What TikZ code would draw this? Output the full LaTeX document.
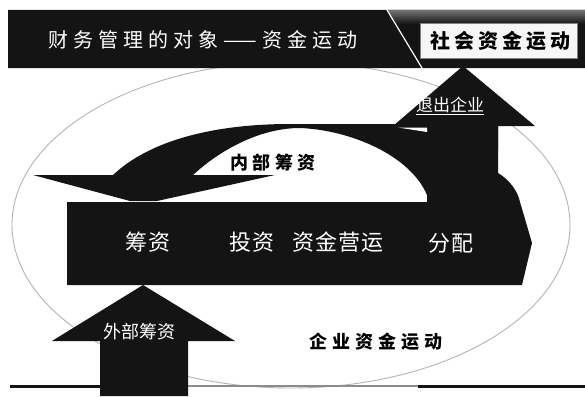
\documentclass[tikz,border=0pt]{standalone}
\usepackage{fontspec}
\newfontfamily\cjk{Noto Sans CJK SC}
\definecolor{ink}{HTML}{141414}
\definecolor{ringgray}{HTML}{B4B4B4}
\definecolor{boxfill}{HTML}{F6F6F6}
\tikzset{
  inkfill/.style={fill=ink, draw=none},
  wtext/.style={text=white, inner sep=0pt},
  btext/.style={text=black, inner sep=0pt},
}
\newcommand{\fs}[2]{\fontsize{#1}{#1}\selectfont\addfontfeature{LetterSpace=#2}}
\begin{document}
\begin{tikzpicture}[x=1pt,y=-1pt]
\fill[white] (0,0) rectangle (585,396);
\useasboundingbox (0,0) rectangle (585,396);
% ellipse
\draw[ringgray, line width=0.9pt] (291,225) ellipse [x radius=279pt, y radius=163pt];
% bottom line
\draw[ink, line width=3pt] (10,386) -- (100,386);
\draw[ink, line width=3pt] (418,386) -- (585,386);
\draw[black!45, line width=2.5pt] (188,386) -- (418,386);
% top bar
\fill[ink] (8,10) -- (387,10) -- (422,68) -- (8,68) -- cycle;
\fill[ink] (387,10) -- (585,10) -- (585,68) -- (422,68) -- cycle;
\shade[top color=black!55, bottom color=ink] (387,10) -- (585,10) -- (585,24) -- (395.4,24) -- cycle;
\draw[white, line width=1.2pt] (387,10) -- (422,68);
\node[draw=black!50, fill=boxfill, minimum width=157pt, minimum height=35pt, inner sep=0pt] (socbox) at (498.5,40.5) {};
\node[btext] (society) at (500,41) {\cjk\bfseries\fs{20}{20}社会资金运动};
\node[wtext] (title) at (203,40) {\cjk\fs{20}{25}财务管理的对象——资金运动};
% main arrow
\fill[inkfill] (67,202) -- (520,202) -- (532,243) -- (522,285) -- (67,285) -- cycle;
% arc band with the exit arrow
\fill[inkfill] (113,175) .. controls (150,140) and (215,124) .. (290,124) -- (498,124) -- (498,173)
  .. controls (510,180) and (518,192) .. (520,202) -- (427,202) -- (427,195)
  .. controls (410,155) and (350,130) .. (300,128)
  .. controls (260,128) and (220,150) .. (193,175) -- cycle;
\fill[inkfill] (463,66) -- (535,126) -- (498,126) -- (498,150) -- (427,150) -- (427,126) -- (393,126) -- cycle;
\fill[white] (398,127.5) -- (427,127.5) -- (427,132) -- cycle;
% left arrowhead of the arc
\fill[inkfill] (33,175) -- (275,175) -- (157,201) -- (130,201) -- cycle;
% bottom up arrow
\fill[inkfill] (143,285) -- (235,341) -- (188,341) -- (188,396) -- (100,396) -- (100,341) -- (52,341) -- cycle;
% labels
\node[wtext] (exit) at (450,105) {\cjk\fs{17}{0}退出企业};
\draw[white, line width=0.8pt] ([yshift=-1.5pt]exit.south west) -- ([yshift=-1.5pt]exit.south east);
\node[btext] (inner) at (273,163) {\cjk\bfseries\fs{18}{25}内部筹资};
\node[wtext] (l1) at (148,242) {\cjk\fs{22}{5}筹资};
\node[wtext] (l2) at (252,242) {\cjk\fs{22}{5}投资};
\node[wtext] (l3) at (338,242) {\cjk\fs{22}{5}资金营运};
\node[wtext] (l4) at (451,243) {\cjk\fs{22}{5}分配};
\node[wtext] (outer) at (139,332) {\cjk\fs{18}{0}外部筹资};
\node[btext] (enterprise) at (376,342) {\cjk\bfseries\fs{18}{28}企业资金运动};
\end{tikzpicture}
\end{document}
